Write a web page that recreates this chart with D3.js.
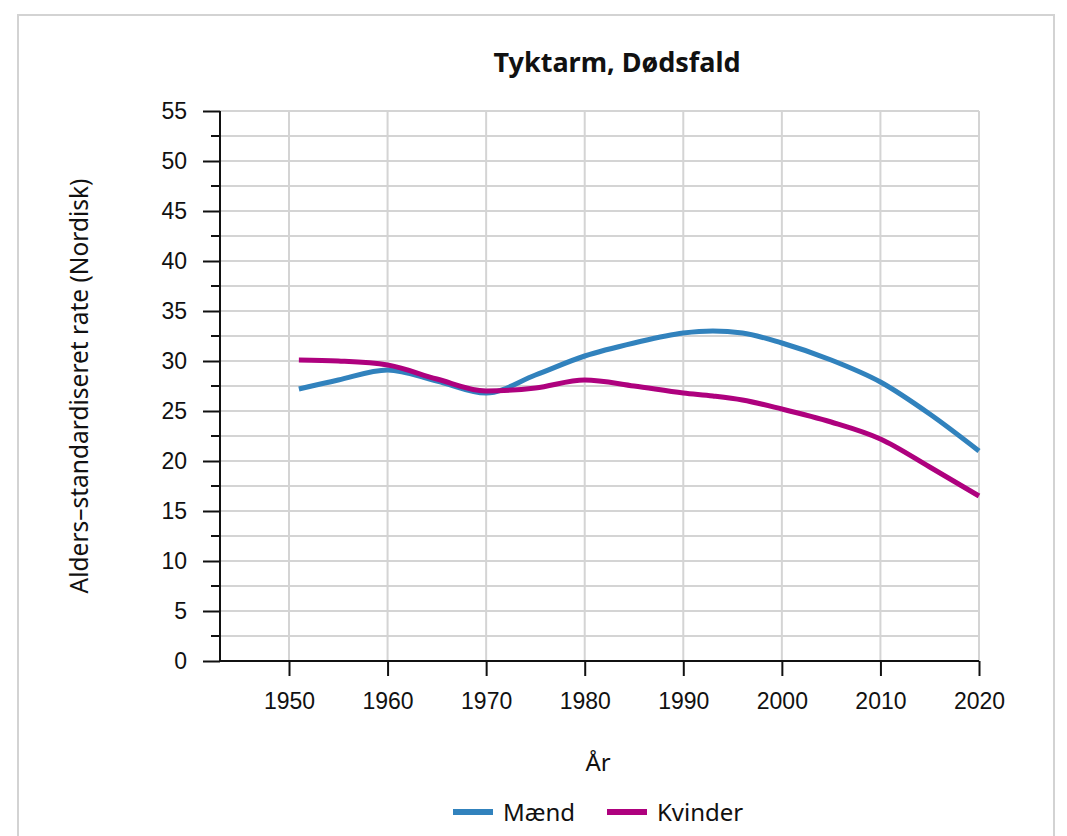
<!DOCTYPE html>
<html lang="da">
  <head>
    <meta charset="utf-8" />
    <title>Tyktarm, Dødsfald</title>
    <style>
      body { margin: 0; background: #fff; }
      .frame {
        position: absolute;
        left: 17px;
        top: 14px;
        width: 1038px;
        height: 900px;
        border: 2px solid #d3d3d3;
        box-sizing: border-box;
      }
      svg { position: absolute; left: 0; top: 0; }
      .lbl { font-family: "Noto Sans", sans-serif; fill: #111; }
    </style>
  </head>
  <body>
    <div class="frame"></div>
    <script src="https://d3js.org/d3.v7.min.js"></script>
    <script>
      // data
      var years = [1951, 1955, 1960, 1965, 1970, 1975, 1980, 1985, 1990, 1993, 1996, 2000, 2005, 2010, 2015, 2020];
      var maend = [27.2, 28.1, 29.1, 28.0, 26.8, 28.6, 30.5, 31.8, 32.8, 33.0, 32.8, 31.8, 30.1, 27.9, 24.7, 21.0];
      var kvinder = [30.1, 30.0, 29.6, 28.2, 27.0, 27.3, 28.1, 27.5, 26.8, 26.5, 26.1, 25.2, 23.9, 22.2, 19.4, 16.5];
      var seriesNames = ["Mænd", "Kvinder"];
      var colors = ["#3182bd", "#ae017e"];
      var yearTicks = [1950, 1960, 1970, 1980, 1990, 2000, 2010, 2020];
      var rateTicks = [0, 5, 10, 15, 20, 25, 30, 35, 40, 45, 50, 55];

      var width = 1067, height = 836;
      var margin = { top: 111, left: 220, right: 88, bottom: 175 };
      var w = width - margin.left - margin.right,
        h = height - margin.top - margin.bottom;

      var svg = d3.select("body").append("svg")
        .attr("width", width)
        .attr("height", height);

      var g = svg.append("g")
        .attr("transform", "translate(" + margin.left + "," + margin.top + ")");

      var x = d3.scaleLinear().domain([1943, 2020]).range([0, w]);
      var y = d3.scaleLinear().domain([0, 55]).range([h, 0]);

      // grid
      var minor = d3.range(0, 55.1, 2.5);
      g.append("g").selectAll("line").data(minor).enter().append("line")
        .attr("x1", 0).attr("x2", w)
        .attr("y1", function (d) { return y(d); })
        .attr("y2", function (d) { return y(d); })
        .attr("stroke", "#d4d4d4").attr("stroke-width", 2);
      g.append("g").selectAll("line").data(yearTicks).enter().append("line")
        .attr("y1", 0).attr("y2", h)
        .attr("x1", function (d) { return x(d); })
        .attr("x2", function (d) { return x(d); })
        .attr("stroke", "#d4d4d4").attr("stroke-width", 2);

      // minor y ticks
      g.append("g").selectAll("line").data(minor.filter(function (d) { return d % 5 !== 0; }))
        .enter().append("line")
        .attr("x1", -9).attr("x2", 0)
        .attr("y1", function (d) { return y(d); })
        .attr("y2", function (d) { return y(d); })
        .attr("stroke", "#111").attr("stroke-width", 2);

      var yAxis = g.append("g")
        .call(d3.axisLeft(y).tickValues(rateTicks).tickSize(17).tickPadding(16).tickFormat(d3.format("d")));
      var xAxis = g.append("g")
        .attr("transform", "translate(0," + h + ")")
        .call(d3.axisBottom(x).tickValues(yearTicks).tickSize(15).tickPadding(17).tickFormat(d3.format("d")));
      [xAxis, yAxis].forEach(function (a) {
        a.attr("font-family", "Liberation Sans, Arial, sans-serif").attr("font-size", 23);
        a.selectAll(".tick text").attr("fill", "#111");
        a.select(".domain").attr("stroke", "#111").attr("stroke-width", 2);
        a.selectAll(".tick line").attr("stroke", "#111").attr("stroke-width", 2);
      });
      yAxis.select(".domain").attr("d", "M0," + h + "V0");
      xAxis.select(".domain").attr("d", "M0,0H" + w);

      // lines
      var line = d3.line()
        .x(function (d) { return x(d[0]); })
        .y(function (d) { return y(d[1]); })
        .curve(d3.curveMonotoneX);
      [maend, kvinder].forEach(function (vals, i) {
        g.append("path")
          .datum(years.map(function (yr, j) { return [yr, vals[j]]; }))
          .attr("fill", "none")
          .attr("stroke", colors[i])
          .attr("stroke-width", 5)
          .attr("d", line);
      });

      // texts
      svg.append("text").attr("class", "lbl")
        .attr("x", 617).attr("y", 72)
        .attr("text-anchor", "middle")
        .style("font-size", "27px").style("font-weight", "bold")
        .text("Tyktarm, Dødsfald");

      svg.append("text").attr("class", "lbl")
        .attr("transform", "translate(88," + (margin.top + h / 2) + ") rotate(-90)")
        .attr("text-anchor", "middle")
        .style("font-size", "24.5px")
        .text("Alders–standardiseret rate (Nordisk)");

      svg.append("text").attr("class", "lbl")
        .attr("x", 598).attr("y", 771)
        .attr("text-anchor", "middle")
        .style("font-size", "24px")
        .text("År");

      var legendX = [453, 607];
      var legend = svg.selectAll(".legend").data(seriesNames).enter().append("g")
        .attr("transform", function (d, i) { return "translate(" + legendX[i] + ",812)"; });
      legend.append("line")
        .attr("x1", 0).attr("x2", 40)
        .attr("stroke", function (d, i) { return colors[i]; })
        .attr("stroke-width", 6);
      legend.append("text").attr("class", "lbl")
        .attr("x", 50).attr("y", 9)
        .style("font-size", "24px")
        .text(function (d) { return d; });
    </script>
  </body>
</html>
